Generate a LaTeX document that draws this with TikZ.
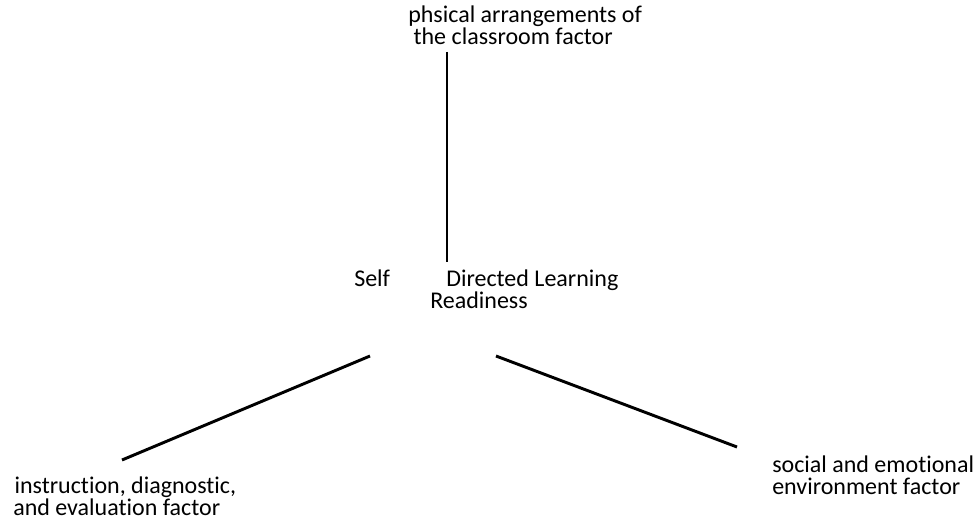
\documentclass[tikz,border=0pt]{standalone}
\usepackage{fontspec}
\setmainfont{Carlito}[Ligatures=NoCommon]
\usetikzlibrary{positioning}

\begin{document}
\begin{tikzpicture}[x=0.75pt, y=-0.75pt, every node/.style={font=\fontsize{18}{16.5}\selectfont, inner sep=0pt, anchor=base west, align=left}]
\useasboundingbox (0,0) rectangle (973,520);
% Centre
\node (self) at (354,286) {Self};
\node (directed) at (446,286) {Directed Learning};
\node (readiness) at (430,308) {Readiness};
% Factors (base = last line)
\node (physical) at (408,45) {phsical arrangements of\\\hspace*{4pt}the classroom factor};
\node (instruction) at (13,515) {\hspace*{1pt}instruction, diagnostic,\\and evaluation factor};
\node (social) at (772,494) {social and emotional\\environment factor};
% Line ends
\coordinate (top1) at (447,52);
\coordinate (top2) at (447,262);
\coordinate (left1) at (370,356);
\coordinate (left2) at (122,460);
\coordinate (right1) at (496,356);
\coordinate (right2) at (737,447);
\draw[line width=2.2pt] (top1) -- (top2);
\draw[line width=2.2pt] (left1) -- (left2);
\draw[line width=2.2pt] (right1) -- (right2);
\end{tikzpicture}
\end{document}
